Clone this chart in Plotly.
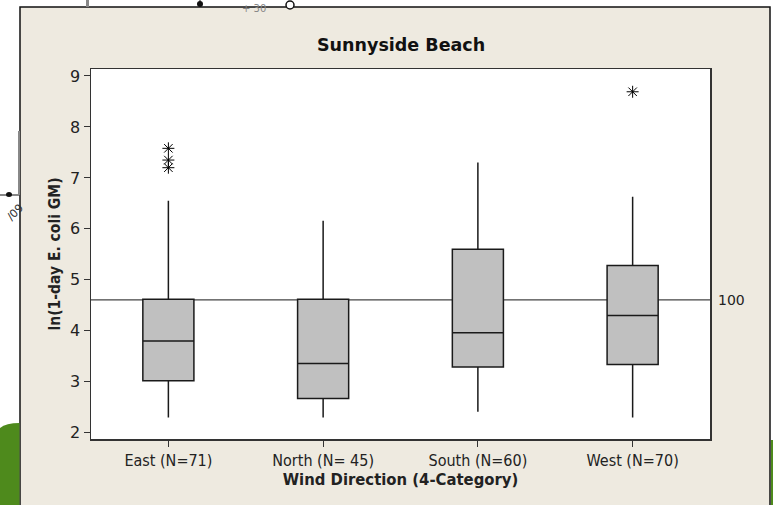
import plotly.graph_objects as go

categories = ["East (N=71)", "North (N= 45)", "South (N=60)", "West (N=70)"]
q1 = [3.02, 2.67, 3.29, 3.34]
median = [3.80, 3.36, 3.96, 4.30]
q3 = [4.62, 4.62, 5.60, 5.28]
lower_whisker = [2.30, 2.30, 2.41, 2.30]
upper_whisker = [6.55, 6.16, 7.30, 6.63]
outlier_cats = ["East (N=71)", "East (N=71)", "East (N=71)", "West (N=70)"]
outlier_vals = [7.58, 7.35, 7.20, 8.69]
ref_value = 4.605
ref_label = "100"

title = "Sunnyside Beach"
x_title = "Wind Direction (4-Category)"
y_title = "ln(1-day E. coli GM)"
y_ticks = [2, 3, 4, 5, 6, 7, 8, 9]

fig = go.Figure()
fig.add_trace(go.Box(
    x=categories, q1=q1, median=median, q3=q3,
    lowerfence=lower_whisker, upperfence=upper_whisker,
    fillcolor="#C0C0C0", line=dict(color="#1a1a1a", width=1.5),
    whiskerwidth=0, width=0.33, boxpoints=False, showlegend=False,
    hoverinfo="skip",
))
fig.add_trace(go.Scatter(
    x=outlier_cats, y=outlier_vals, mode="markers",
    marker=dict(symbol="asterisk-open", size=10, color="black", line=dict(color="black", width=1)),
    showlegend=False, hoverinfo="skip",
))

# plot area: x 91..710, y 69..439
L, R, T, B = 91, 710, 69, 439
W, H = 773, 505
def px(x):
    return (x - L) / (R - L)
def py(y):
    return (B - y) / (B - T)

shapes = [
    # beige panel
    dict(type="rect", xref="paper", yref="paper", x0=px(20), x1=px(770), y0=py(506), y1=py(7),
         fillcolor="#EEEAE0", line=dict(color="#111111", width=1.5), layer="below"),
    # white plot area
    dict(type="rect", xref="paper", yref="paper", x0=0, x1=1, y0=0, y1=1,
         fillcolor="white", line=dict(width=0), layer="below"),
    # green strips
    dict(type="path", xref="paper", yref="paper",
         path=f"M {px(0)} {py(505)} L {px(0)} {py(428)} Q {px(6)} {py(423)} {px(19.5)} {py(423)} L {px(19.5)} {py(505)} Z",
         fillcolor="#4E8A1C", line=dict(width=0), layer="below"),
    dict(type="rect", xref="paper", yref="paper", x0=px(771), x1=px(773), y0=py(505), y1=py(440),
         fillcolor="#4E8A1C", line=dict(width=0), layer="below"),
    # fragments
    dict(type="line", xref="paper", yref="paper", x0=px(0), x1=px(19), y0=py(195), y1=py(195),
         line=dict(color="#111111", width=1), layer="below"),
    dict(type="rect", xref="paper", yref="paper", x0=px(18), x1=px(20), y0=py(195), y1=py(131),
         fillcolor="#888888", line=dict(width=0), layer="below"),
    dict(type="circle", xref="paper", yref="paper", x0=px(6), x1=px(12), y0=py(197), y1=py(192),
         fillcolor="#111111", line=dict(width=0), layer="below"),
    dict(type="circle", xref="paper", yref="paper", x0=px(197), x1=px(203), y0=py(7), y1=py(1),
         fillcolor="#111111", line=dict(width=0), layer="below"),
    dict(type="line", xref="paper", yref="paper", x0=px(200), x1=px(200), y0=py(7), y1=py(0),
         line=dict(color="#111111", width=1), layer="below"),
    dict(type="circle", xref="paper", yref="paper", x0=px(286), x1=px(294), y0=py(9), y1=py(1),
         fillcolor="white", line=dict(color="#111111", width=1.5), layer="below"),
    dict(type="rect", xref="paper", yref="paper", x0=px(86), x1=px(89), y0=py(7), y1=py(0),
         fillcolor="#888888", line=dict(width=0), layer="below"),
    # reference line
    dict(type="line", xref="paper", yref="y", x0=0, x1=1, y0=ref_value, y1=ref_value,
         line=dict(color="#444444", width=1.2), layer="below"),
]

annotations = [
    dict(text=ref_label, xref="paper", yref="y", x=px(716), y=ref_value, xanchor="left",
         yanchor="middle", showarrow=False, font=dict(size=14, color="#222222")),
    dict(text="<b>" + title + "</b>", xref="paper", yref="paper", x=0.5, y=py(45), xanchor="center",
         yanchor="middle", showarrow=False, font=dict(size=17.5, color="#111111", family="DejaVu Sans")),
    dict(text="+ 30", xref="paper", yref="paper", x=px(240), y=py(0.5), xanchor="left", yanchor="top",
         showarrow=False, font=dict(size=10, color="#888888")),
    dict(text="/09", xref="paper", yref="paper", x=px(1), y=py(212), xanchor="left", yanchor="middle",
         showarrow=False, textangle=-45, font=dict(size=11, color="#333333")),
]

fig.update_layout(
    width=W, height=H,
    margin=dict(l=L, r=W - R, t=T, b=H - B, pad=0),
    paper_bgcolor="white", plot_bgcolor="white",
    font=dict(family="DejaVu Sans", size=14, color="#222222"),
    shapes=shapes, annotations=annotations,
    xaxis=dict(type="category", categoryorder="array", categoryarray=categories,
               range=[-0.5, 3.5], showline=True, mirror=True, linecolor="#333333", linewidth=1.5,
               ticks="outside", ticklen=6, tickcolor="#333333", showgrid=False,
               tickfont=dict(size=16, family="DejaVu Sans Condensed"),
               title=dict(text="<b>" + x_title + "</b>", font=dict(size=16.5, family="DejaVu Sans Condensed"), standoff=2)),
    yaxis=dict(range=[1.876, 9.137], tickvals=y_ticks, showline=True, mirror=True, linecolor="#333333",
               linewidth=1.5, ticks="outside", ticklen=6, tickcolor="#333333", showgrid=False,
               zeroline=False, tickfont=dict(size=16),
               title=dict(text="<b>" + y_title + "</b>", font=dict(size=15.5, family="DejaVu Sans Condensed"), standoff=5)),
)

fig.write_html("out.html", config={"displayModeBar": False, "staticPlot": True},
               post_script="document.body.style.margin='0';document.body.style.overflow='hidden';")
